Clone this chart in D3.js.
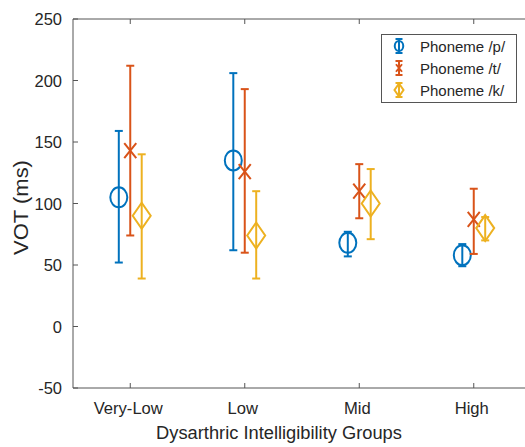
<!DOCTYPE html>
<html>
<head>
<meta charset="utf-8">
<script src="https://cdn.jsdelivr.net/npm/d3@7"></script>
<style>
  body { margin: 0; background: #fff; }
  text { font-family: "Liberation Sans", Arial, sans-serif; fill: #262626; }
</style>
</head>
<body>
<svg id="chart" width="525" height="447"></svg>
<script>
// groups on the x axis
var groups = ['Very-Low', 'Low', 'Mid', 'High'];
var phonemes = ['Phoneme /p/', 'Phoneme /t/', 'Phoneme /k/'];
var colors = ['#0072BD', '#D95319', '#EDB120'];
var shapes = ['circle', 'cross', 'diamond'];

// mean, upper and lower ends per phoneme
var pMean = [105, 135, 68, 58];
var pHigh = [159, 206, 77, 67];
var pLow  = [52, 62, 57, 49];

var tMean = [143, 126, 110, 87];
var tHigh = [212, 193, 132, 112];
var tLow  = [74, 60, 88, 59];

var kMean = [90, 74, 100, 80];
var kHigh = [140, 110, 128, 89];
var kLow  = [39, 39, 71, 70];

var yTicks = [-50, 0, 50, 100, 150, 200, 250];
var offsets = [-0.1, 0, 0.1];

var series = [
  {mean: pMean, hi: pHigh, lo: pLow},
  {mean: tMean, hi: tHigh, lo: tLow},
  {mean: kMean, hi: kHigh, lo: kLow}
];

var svg = d3.select('#chart');
var axL = 73, axR = 531, axT = 19, axB = 388;

var x = d3.scaleLinear().domain([0.5, 4.5]).range([axL, axR]);
var y = d3.scaleLinear().domain([-50, 250]).range([axB, axT]);

var axisColor = '#555';

// box lines
svg.append('line').attr('x1', axL).attr('x2', axR).attr('y1', axT).attr('y2', axT)
  .attr('stroke', axisColor).attr('stroke-width', 1);
svg.append('line').attr('x1', axL).attr('x2', axR).attr('y1', axB).attr('y2', axB)
  .attr('stroke', axisColor).attr('stroke-width', 1);
svg.append('line').attr('x1', axL).attr('x2', axL).attr('y1', axT).attr('y2', axB)
  .attr('stroke', axisColor).attr('stroke-width', 1);

// x ticks (bottom and top, inward)
groups.forEach(function(g, i) {
  var xx = x(i + 1);
  svg.append('line').attr('x1', xx).attr('x2', xx).attr('y1', axB).attr('y2', axB - 5)
    .attr('stroke', axisColor);
  svg.append('line').attr('x1', xx).attr('x2', xx).attr('y1', axT).attr('y2', axT + 5)
    .attr('stroke', axisColor);
  svg.append('text').attr('x', xx - 2).attr('y', axB + 26)
    .attr('text-anchor', 'middle').attr('font-size', 16.6).text(g);
});

// y ticks
yTicks.forEach(function(t) {
  var yy = y(t);
  svg.append('line').attr('x1', axL).attr('x2', axL + 5).attr('y1', yy).attr('y2', yy)
    .attr('stroke', axisColor);
  svg.append('text').attr('x', axL - 11).attr('y', yy + 6)
    .attr('text-anchor', 'end').attr('font-size', 16.5).text(t);
});

// axis titles
svg.append('text').attr('x', 279).attr('y', 439)
  .attr('text-anchor', 'middle').attr('font-size', 18.3).text('Dysarthric Intelligibility Groups');
svg.append('text').attr('transform', 'translate(28,207.5) rotate(-90) scale(1.1,1)')
  .attr('text-anchor', 'middle').attr('font-size', 20).text('VOT (ms)');

function drawMarker(g, shape, cx, cy, color, s) {
  if (shape == 'circle') {
    g.append('ellipse').attr('cx', cx).attr('cy', cy).attr('rx', 8.5 * s).attr('ry', 10 * s)
      .attr('fill', 'none').attr('stroke', color).attr('stroke-width', 2);
  } else if (shape == 'cross') {
    g.append('path')
      .attr('d', 'M' + (cx - 6 * s) + ',' + (cy - 7.5 * s) + 'L' + (cx + 6 * s) + ',' + (cy + 7.5 * s) +
                 'M' + (cx - 6 * s) + ',' + (cy + 7.5 * s) + 'L' + (cx + 6 * s) + ',' + (cy - 7.5 * s))
      .attr('fill', 'none').attr('stroke', color).attr('stroke-width', 2);
  } else {
    g.append('path')
      .attr('d', 'M' + cx + ',' + (cy - 13 * s) + 'L' + (cx + 9 * s) + ',' + cy +
                 'L' + cx + ',' + (cy + 13 * s) + 'L' + (cx - 9 * s) + ',' + cy + 'Z')
      .attr('fill', 'none').attr('stroke', color).attr('stroke-width', 2);
  }
}

function drawErrorbar(g, xx, yHi, yLo, color, cap) {
  g.append('line').attr('x1', xx).attr('x2', xx).attr('y1', yHi).attr('y2', yLo)
    .attr('stroke', color).attr('stroke-width', 2);
  [yHi, yLo].forEach(function(yy) {
    g.append('line').attr('x1', xx - cap).attr('x2', xx + cap).attr('y1', yy).attr('y2', yy)
      .attr('stroke', color).attr('stroke-width', 2);
  });
}

var plot = svg.append('g');
series.forEach(function(s, k) {
  s.mean.forEach(function(m, i) {
    var xx = x(i + 1 + offsets[k]);
    drawErrorbar(plot, xx, y(s.hi[i]), y(s.lo[i]), colors[k], 4);
    drawMarker(plot, shapes[k], xx, y(m), colors[k], 1);
  });
});

// legend
var lg = svg.append('g');
lg.append('rect').attr('x', 381.5).attr('y', 34.5).attr('width', 135).attr('height', 68)
  .attr('fill', '#fff').attr('stroke', axisColor).attr('stroke-width', 1);
phonemes.forEach(function(p, k) {
  var ly = 46 + k * 22;
  drawErrorbar(lg, 399, ly - 7, ly + 7, colors[k], 3.5);
  drawMarker(lg, shapes[k], 399, ly, colors[k], 0.5);
  lg.append('text').attr('x', 420).attr('y', ly + 5.5).attr('font-size', 15).text(p);
});
</script>
</body>
</html>
